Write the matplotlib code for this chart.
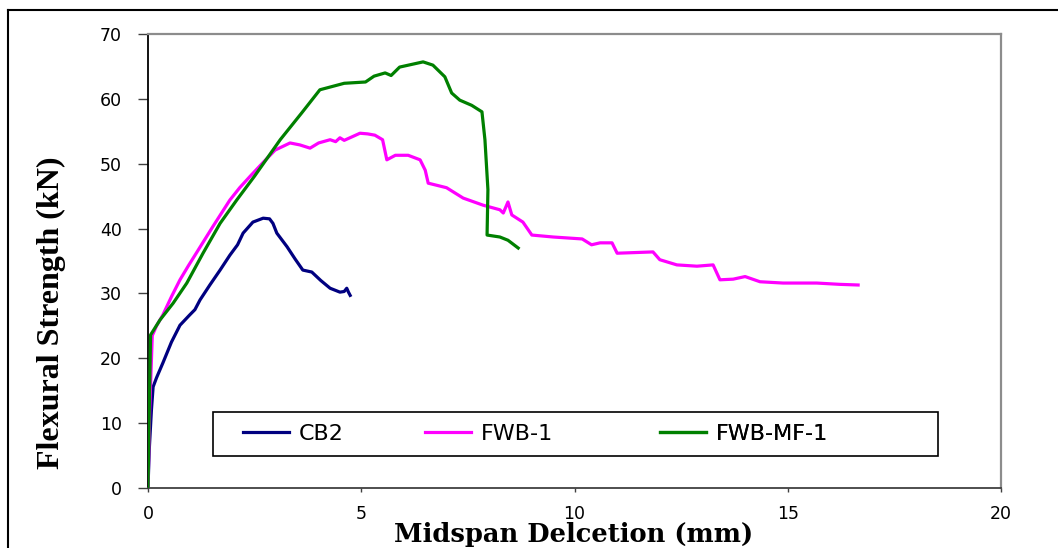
import matplotlib
matplotlib.use("Agg")
import matplotlib.pyplot as plt
from matplotlib.lines import Line2D
from matplotlib.patches import Rectangle

# ---- data ----
cb2_x = [0.0, 0.03, 0.08, 0.12, 0.2, 0.35, 0.55, 0.75, 0.98, 1.1, 1.22, 1.45, 1.69, 1.92, 2.1, 2.23, 2.46, 2.7, 2.85, 2.93, 3.02, 3.26, 3.45, 3.63, 3.84, 4.05, 4.27, 4.5, 4.6, 4.66, 4.7, 4.74]
cb2_y = [0.0, 6.0, 12.0, 15.6, 17.0, 19.3, 22.5, 25.1, 26.7, 27.5, 29.0, 31.3, 33.6, 35.9, 37.5, 39.3, 41.0, 41.6, 41.5, 40.8, 39.3, 37.2, 35.3, 33.6, 33.3, 32.0, 30.8, 30.2, 30.3, 30.8, 30.2, 29.7]

fwb_x = [0.0, 0.04, 0.1, 0.2, 0.35, 0.55, 0.75, 0.95, 1.15, 1.52, 1.92, 2.15, 2.4, 2.7, 2.98, 3.33, 3.56, 3.8, 4.0, 4.27, 4.4, 4.5, 4.6, 4.97, 5.15, 5.32, 5.5, 5.6, 5.8, 6.1, 6.38, 6.5, 6.57, 7.0, 7.39, 7.86, 8.25, 8.33, 8.44, 8.53, 8.79, 9.0, 9.5, 10.18, 10.4, 10.6, 10.88, 11.0, 11.84, 12.0, 12.4, 12.87, 13.25, 13.41, 13.72, 14.0, 14.35, 14.89, 15.29, 15.68, 16.22, 16.65]
fwb_y = [0.0, 12.0, 23.5, 25.0, 26.7, 29.5, 32.1, 34.3, 36.4, 40.3, 44.4, 46.3, 48.1, 50.2, 52.1, 53.2, 52.9, 52.4, 53.2, 53.7, 53.4, 54.0, 53.6, 54.7, 54.6, 54.4, 53.7, 50.6, 51.3, 51.3, 50.6, 49.0, 47.0, 46.3, 44.7, 43.6, 42.9, 42.4, 44.1, 42.1, 41.0, 39.0, 38.7, 38.4, 37.5, 37.8, 37.8, 36.2, 36.4, 35.2, 34.4, 34.2, 34.4, 32.1, 32.2, 32.6, 31.8, 31.6, 31.6, 31.6, 31.4, 31.3]

mf_x = [0.0, 0.03, 0.06, 0.28, 0.59, 0.91, 1.29, 1.69, 2.08, 2.5, 3.1, 3.6, 4.03, 4.6, 5.1, 5.3, 5.56, 5.7, 5.9, 6.45, 6.68, 6.96, 7.12, 7.31, 7.59, 7.83, 7.9, 7.97, 7.95, 8.25, 8.44, 8.68]
mf_y = [0.0, 12.0, 23.6, 25.9, 28.5, 31.6, 36.2, 40.8, 44.4, 48.1, 53.7, 57.8, 61.4, 62.4, 62.6, 63.5, 64.0, 63.6, 64.9, 65.7, 65.2, 63.4, 60.9, 59.8, 59.0, 58.0, 53.7, 46.0, 39.0, 38.7, 38.2, 37.0]

series_names = ["CB2", "FWB-1", "FWB-MF-1"]
series_colors = ["#000080", "#FF00FF", "#008000"]
x_ticks = [0, 5, 10, 15, 20]
y_ticks = [0, 10, 20, 30, 40, 50, 60, 70]

W, H = 1058, 548
fig = plt.figure(figsize=(W / 100, H / 100), dpi=100)
fig.patch.set_facecolor("white")

# axes placement (pixels)
left, right, top, bottom = 148, 1001, 34, 488
ax = fig.add_axes([left / W, 1 - bottom / H, (right - left) / W, (bottom - top) / H])

def px_to_ax(px, py):
    return (px - left) / (right - left), (bottom - py) / (bottom - top)

lw = 2.3
lines = []
lines += ax.plot(cb2_x, cb2_y, color=series_colors[0], lw=lw, label=series_names[0], zorder=3)
lines += ax.plot(fwb_x, fwb_y, color=series_colors[1], lw=lw, label=series_names[1], zorder=3)
lines += ax.plot(mf_x, mf_y, color=series_colors[2], lw=lw, label=series_names[2], zorder=4)

ax.set_xlim(0, 20)
ax.set_ylim(0, 70)
ax.set_xticks(x_ticks)
ax.set_yticks(y_ticks)

tick_font = dict(family="DejaVu Sans", size=12.5)
ax.set_xticklabels([str(t) for t in x_ticks], **tick_font)
ax.set_yticklabels([str(t) for t in y_ticks], **tick_font)
ax.tick_params(axis="y", direction="out", length=7.2, width=1, color="#404040", pad=11.5)
ax.tick_params(axis="x", direction="out", length=3, width=1, color="#404040", pad=9)

ax.spines["left"].set_color("black")
ax.spines["left"].set_linewidth(1.3)
ax.spines["bottom"].set_color("#404040")
ax.spines["bottom"].set_linewidth(1.3)
for s in ("top", "right"):
    ax.spines[s].set_color("#8c8c8c")
    ax.spines[s].set_linewidth(1.6)

fig.text(574 / W, 1 - 542 / H, "Midspan Delcetion (mm)", family="DejaVu Serif", weight="bold",
         size=18.5, ha="center", va="baseline")
fig.text(51 / W, 1 - 313 / H, "Flexural Strength (kN)", family="Liberation Serif", weight="bold",
         size=23, rotation=90, ha="center", va="center")

# legend: frame box plus one entry per series at the reference positions
x0, y0 = px_to_ax(213, 456)
x1, y1 = px_to_ax(938, 412)
ax.add_patch(Rectangle((x0, y0), x1 - x0, y1 - y0, transform=ax.transAxes, facecolor="white",
                       edgecolor="black", lw=1.2, zorder=5, clip_on=False))
handle_px = [243, 425, 660]
for ln, name, hx in zip(lines, series_names, handle_px):
    ax_x, ax_y = px_to_ax(hx, 434)
    leg = ax.legend([ln], [name], loc="center left", bbox_to_anchor=(ax_x, ax_y), frameon=False,
                    prop=dict(family="DejaVu Sans", size=16), borderpad=0, borderaxespad=0,
                    handlelength=2.05, handletextpad=0.45)
    leg.set_zorder(6)
    ax.add_artist(leg)

# outer frame lines
fig.add_artist(Line2D([8 / W, 8 / W], [0, 1 - 10 / H], color="black", lw=1.5, transform=fig.transFigure))
fig.add_artist(Line2D([8 / W, 1], [1 - 10 / H, 1 - 10 / H], color="black", lw=1.5, transform=fig.transFigure))

fig.savefig("out.png", dpi=100, facecolor="white")
